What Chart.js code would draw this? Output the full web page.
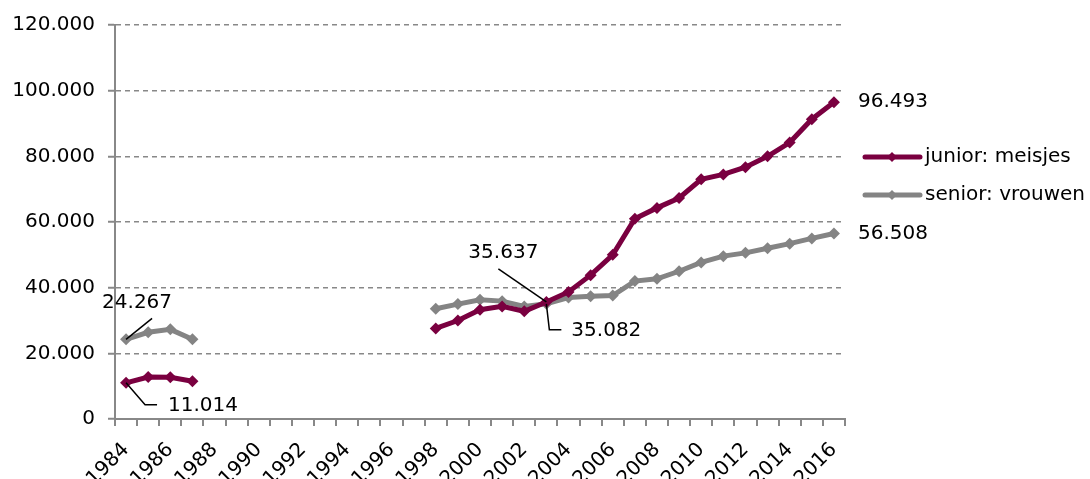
<!DOCTYPE html>
<html lang="nl">
<head>
  <meta charset="UTF-8">
  <title>junior / senior</title>
  <script src="https://cdn.jsdelivr.net/npm/chart.js"></script>
  <style>
    html, body { margin: 0; padding: 0; background: #fff; }
    .wrap { width: 1090px; height: 479px; position: relative; }
  </style>
</head>
<body>
  <div class="wrap"><canvas id="chart"></canvas></div>

  <script>
    // categories: years on the x axis
    const years = ['1984','1985','1986','1987','1988','1989','1990','1991','1992','1993','1994','1995',
      '1996','1997','1998','1999','2000','2001','2002','2003','2004','2005','2006','2007','2008',
      '2009','2010','2011','2012','2013','2014','2015','2016'];

    // junior: meisjes
    const junior = [11014, 12800, 12700, 11500,
      null, null, null, null, null, null, null, null, null, null,
      27600, 30000, 33300, 34300, 32800, 35637, 38700, 43800, 50000, 61000,
      64300, 67300, 73000, 74500, 76700, 80000, 84200, 91300, 96493];

    // senior: vrouwen
    const senior = [24267, 26400, 27300, 24300,
      null, null, null, null, null, null, null, null, null, null,
      33600, 35000, 36300, 35900, 34300, 35082, 37000, 37400, 37600, 42000,
      42700, 45000, 47700, 49600, 50600, 52000, 53400, 55000, 56508];

    const yTicks = [0, 20000, 40000, 60000, 80000, 100000, 120000];

    const MAROON = '#7a0040';
    const GREY = '#848484';
    const FONT = '"DejaVu Sans", sans-serif';
    const FS = 20;

    function fmt(v) {
      return String(v).replace(/\B(?=(\d{3})+(?!\d))/g, '.');
    }

    // labels with leader lines + legend
    const annotate = {
      id: 'annotate',
      afterDraw(chart) {
        const ctx = chart.ctx;
        const ca = chart.chartArea;
        const pt = (ds, i) => chart.getDatasetMeta(ds).data[i];
        const last = years.length - 1;

        ctx.save();
        ctx.font = FS + 'px ' + FONT;
        ctx.fillStyle = '#000';
        ctx.strokeStyle = '#000';
        ctx.lineWidth = 1.5;
        ctx.textBaseline = 'middle';

        // end labels
        let p = pt(0, last);
        ctx.textAlign = 'left';
        ctx.fillText(fmt(junior[last]), p.x + 24, p.y);
        p = pt(1, last);
        ctx.fillText(fmt(senior[last]), p.x + 24, p.y);

        // 24.267
        p = pt(1, 0);
        ctx.beginPath();
        ctx.moveTo(p.x, p.y);
        ctx.lineTo(p.x + 26, p.y - 21);
        ctx.stroke();
        ctx.textAlign = 'center';
        ctx.fillText(fmt(senior[0]), p.x + 11, p.y - 37);

        // 11.014
        p = pt(0, 0);
        ctx.beginPath();
        ctx.moveTo(p.x, p.y);
        ctx.lineTo(p.x + 19, p.y + 22);
        ctx.lineTo(p.x + 31, p.y + 22);
        ctx.stroke();
        ctx.textAlign = 'left';
        ctx.fillText(fmt(junior[0]), p.x + 42, p.y + 23);

        // 35.637 (2003)
        const i03 = years.indexOf('2003');
        p = pt(0, i03);
        ctx.beginPath();
        ctx.moveTo(p.x - 48, p.y - 33);
        ctx.lineTo(p.x, p.y);
        ctx.stroke();
        ctx.textAlign = 'center';
        ctx.fillText(fmt(junior[i03]), p.x - 43, p.y - 49);

        // 35.082 (2003)
        p = pt(1, i03);
        ctx.beginPath();
        ctx.moveTo(p.x, p.y);
        ctx.lineTo(p.x + 3, p.y + 26);
        ctx.lineTo(p.x + 15, p.y + 26);
        ctx.stroke();
        ctx.textAlign = 'left';
        ctx.fillText(fmt(senior[i03]), p.x + 25, p.y + 27);

        // legend
        const items = [
          { text: 'junior: meisjes', color: MAROON },
          { text: 'senior: vrouwen', color: GREY }
        ];
        items.forEach((it, k) => {
          const lx = ca.right + 20;
          const ly = ca.top + 132 + k * 38;
          ctx.strokeStyle = it.color;
          ctx.fillStyle = it.color;
          ctx.lineWidth = 5;
          ctx.lineCap = 'round';
          ctx.beginPath();
          ctx.moveTo(lx, ly);
          ctx.lineTo(lx + 55, ly);
          ctx.stroke();
          ctx.beginPath();
          ctx.moveTo(lx + 27, ly - 5);
          ctx.lineTo(lx + 32, ly);
          ctx.lineTo(lx + 27, ly + 5);
          ctx.lineTo(lx + 22, ly);
          ctx.closePath();
          ctx.fill();
          ctx.fillStyle = '#000';
          ctx.textAlign = 'left';
          ctx.fillText(it.text, lx + 60, ly);
        });
        ctx.restore();
      }
    };

    new Chart(document.getElementById('chart'), {
      type: 'line',
      data: {
        labels: years,
        datasets: [
          {
            label: 'junior: meisjes',
            data: junior,
            borderColor: MAROON,
            backgroundColor: MAROON,
            borderWidth: 5,
            pointStyle: 'rectRot',
            pointRadius: 6,
            pointBorderWidth: 0,
            spanGaps: false,
            tension: 0
          },
          {
            label: 'senior: vrouwen',
            data: senior,
            borderColor: GREY,
            backgroundColor: GREY,
            borderWidth: 5,
            pointStyle: 'rectRot',
            pointRadius: 6,
            pointBorderWidth: 0,
            spanGaps: false,
            tension: 0
          }
        ]
      },
      options: {
        responsive: true,
        maintainAspectRatio: false,
        animation: false,
        layout: { padding: { top: 23, right: 245, left: 0, bottom: 0 } },
        plugins: {
          legend: { display: false },
          tooltip: { enabled: false }
        },
        scales: {
          x: {
            offset: true,
            afterFit: (s) => { s.height = 60; },
            border: { color: '#888', width: 2 },
            grid: {
              offset: true,
              drawOnChartArea: false,
              tickLength: 7,
              color: '#888',
              lineWidth: 2
            },
            ticks: {
              autoSkip: false,
              maxRotation: 45,
              minRotation: 45,
              padding: 12,
              color: '#000',
              font: { family: FONT, size: FS },
              callback: (v, i) => (Number(years[i]) % 2 === 0 ? years[i] : '')
            }
          },
          y: {
            min: 0,
            max: 120000,
            afterFit: (s) => { s.width = 115; },
            afterBuildTicks: (s) => { s.ticks = yTicks.map(v => ({ value: v })); },
            border: { color: '#888', width: 2, dash: [5, 4] },
            grid: {
              color: '#888',
              lineWidth: 1.5,
              tickLength: 7,
              tickBorderDash: [],
              tickColor: '#888',
              tickWidth: 2
            },
            ticks: {
              padding: 13,
              color: '#000',
              font: { family: FONT, size: FS },
              callback: (v) => fmt(v)
            }
          }
        }
      },
      plugins: [annotate]
    });
  </script>
</body>
</html>
